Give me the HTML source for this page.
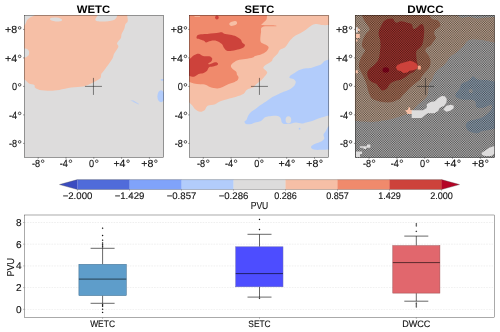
<!DOCTYPE html>
<html><head><meta charset="utf-8"><title>PVU composites</title>
<style>
html,body{margin:0;padding:0;background:#fff;}
body{width:500px;height:332px;overflow:hidden;position:relative;font-family:"Liberation Sans",sans-serif;}
</style></head><body>
<svg width="500" height="332" viewBox="0 0 500 332" style="position:absolute;left:0;top:0;will-change:transform;opacity:0.999" font-family="Liberation Sans, sans-serif" text-rendering="geometricPrecision">
<defs>
<clipPath id="c1"><rect x="24.0" y="15" width="140" height="142.7"/></clipPath>
<clipPath id="c2"><rect x="189.1" y="15" width="140" height="142.7"/></clipPath>
<clipPath id="c3"><rect x="354.9" y="15" width="140" height="142.7"/></clipPath>
</defs>
<rect width="500" height="332" fill="#fff"/>
<g clip-path="url(#c1)">
<rect x="24.0" y="15" width="140" height="143" fill="#dddcdc"/>
<path d="M20.00,26.50 C20.67,26.35 23.07,26.10 24.00,25.60 C24.93,25.10 25.07,24.43 25.60,23.50 C26.13,22.57 26.47,21.02 27.20,20.00 C27.93,18.98 28.83,18.15 30.00,17.40 C31.17,16.65 33.03,16.23 34.20,15.50 C35.37,14.77 36.53,13.42 37.00,13.00 L97.8,13L97.80,13.00 C97.70,13.50 97.62,14.90 97.20,16.00 C96.78,17.10 95.25,18.72 95.30,19.60 C95.35,20.48 95.88,20.98 97.50,21.30 C99.12,21.62 102.75,21.58 105.00,21.50 C107.25,21.42 109.37,21.12 111.00,20.80 C112.63,20.48 113.78,20.40 114.80,19.60 C115.82,18.80 116.65,17.10 117.10,16.00 C117.55,14.90 117.43,13.50 117.50,13.00 L127.2,13L127.20,13.00 C127.22,13.50 127.22,14.62 127.30,16.00 C127.38,17.38 128.02,19.92 127.70,21.30 C127.38,22.68 125.97,23.05 125.40,24.30 C124.83,25.55 124.93,27.17 124.30,28.80 C123.67,30.43 122.17,32.58 121.60,34.10 C121.03,35.62 121.65,36.40 120.90,37.90 C120.15,39.40 117.53,41.60 117.10,43.10 C116.67,44.60 118.80,45.13 118.30,46.90 C117.80,48.67 115.05,51.80 114.10,53.70 C113.15,55.60 113.60,56.40 112.60,58.30 C111.60,60.20 109.60,62.97 108.10,65.10 C106.60,67.23 104.73,69.60 103.60,71.10 C102.47,72.60 101.82,72.97 101.30,74.10 C100.78,75.23 101.38,76.77 100.50,77.90 C99.62,79.03 97.75,79.90 96.00,80.90 C94.25,81.90 92.12,82.98 90.00,83.90 C87.88,84.82 86.43,85.78 83.30,86.40 C80.17,87.02 75.22,87.02 71.20,87.60 C67.18,88.18 62.72,89.38 59.20,89.90 C55.68,90.42 53.37,90.70 50.10,90.70 C46.83,90.70 42.12,90.42 39.60,89.90 C37.08,89.38 35.88,88.43 35.00,87.60 C34.12,86.77 35.30,85.60 34.30,84.90 C33.30,84.20 30.50,84.20 29.00,83.40 C27.50,82.60 26.13,80.77 25.30,80.10 C24.47,79.43 24.88,79.58 24.00,79.40 C23.12,79.22 20.67,79.07 20.00,79.00 L20,57.5L20.00,57.50 C20.67,57.50 22.92,57.58 24.00,57.50 C25.08,57.42 25.70,57.45 26.50,57.00 C27.30,56.55 28.38,55.77 28.80,54.80 C29.22,53.83 29.33,52.20 29.00,51.20 C28.67,50.20 27.63,49.27 26.80,48.80 C25.97,48.33 25.13,48.47 24.00,48.40 C22.87,48.33 20.67,48.40 20.00,48.40 Z" fill="#f6bfa6"/>
<ellipse cx="56" cy="19.5" rx="6.2" ry="2" fill="#dddcdc" transform="rotate(4 56 19.5)"/>
<ellipse cx="161" cy="96.3" rx="3.6" ry="6" fill="#b2ccfb"/>
<ellipse cx="162.2" cy="79.8" rx="1.6" ry="0.9" fill="#b2ccfb"/>
<path d="M130.5,100.2 L133.5,100.6 L138.8,103.8 L138.6,104.4 L134,102.2 Z" fill="#b2ccfb" opacity="0.8"/>
</g>
<g clip-path="url(#c2)">
<rect x="189.1" y="15" width="140" height="143" fill="#dddcdc"/>
<path d="M332.00,25.10 C331.42,25.10 330.03,25.10 328.50,25.10 C326.97,25.10 324.77,25.30 322.80,25.10 C320.83,24.90 318.47,23.90 316.70,23.90 C314.93,23.90 313.95,24.15 312.20,25.10 C310.45,26.05 308.20,28.23 306.20,29.60 C304.20,30.97 302.20,32.17 300.20,33.30 C298.20,34.43 295.83,35.27 294.20,36.40 C292.57,37.53 291.67,38.60 290.40,40.10 C289.13,41.60 287.60,44.13 286.60,45.40 C285.60,46.67 285.53,46.95 284.40,47.70 C283.27,48.45 280.93,48.88 279.80,49.90 C278.67,50.92 278.72,52.40 277.60,53.80 C276.48,55.20 274.10,57.05 273.10,58.30 C272.10,59.55 272.87,60.17 271.60,61.30 C270.33,62.43 266.88,63.97 265.50,65.10 C264.12,66.23 263.17,67.10 263.30,68.10 C263.43,69.10 265.68,70.23 266.30,71.10 C266.92,71.97 267.50,72.17 267.00,73.30 C266.50,74.43 264.55,76.52 263.30,77.90 C262.05,79.28 260.88,80.35 259.50,81.60 C258.12,82.85 256.12,84.40 255.00,85.40 C253.88,86.40 254.18,86.85 252.80,87.60 C251.42,88.35 248.22,88.88 246.70,89.90 C245.18,90.92 245.45,92.57 243.70,93.70 C241.95,94.83 238.45,95.93 236.20,96.70 C233.95,97.47 232.83,97.53 230.20,98.30 C227.57,99.07 222.92,100.30 220.40,101.30 C217.88,102.30 217.23,103.55 215.10,104.30 C212.97,105.05 209.35,104.80 207.60,105.80 C205.85,106.80 205.85,109.30 204.60,110.30 C203.35,111.30 201.62,111.92 200.10,111.80 C198.58,111.68 196.77,110.60 195.50,109.60 C194.23,108.60 193.50,106.93 192.50,105.80 C191.50,104.67 190.58,103.77 189.50,102.80 C188.42,101.83 186.58,100.47 186.00,100.00 L186.00,10.00 L332.00,10.00 Z" fill="#f6bfa6"/>
<path d="M267.20,12.00 C267.17,12.54 267.15,13.95 267.00,15.25 C266.85,16.55 267.05,18.41 266.30,19.80 C265.55,21.19 263.18,22.72 262.50,23.60 C261.82,24.48 260.18,24.78 262.20,25.10 C264.22,25.42 272.42,25.30 274.60,25.50 C276.78,25.70 277.32,26.07 275.30,26.30 C273.28,26.53 264.88,25.85 262.50,26.90 C260.12,27.95 261.37,30.40 261.00,32.60 C260.63,34.80 260.17,38.35 260.30,40.10 C260.43,41.85 260.68,42.22 261.80,43.10 C262.92,43.98 265.87,44.63 267.00,45.40 C268.13,46.17 268.72,46.70 268.60,47.70 C268.48,48.70 267.57,50.28 266.30,51.40 C265.03,52.52 262.88,53.65 261.00,54.40 C259.12,55.15 256.37,55.38 255.00,55.90 C253.63,56.42 254.43,56.98 252.80,57.50 C251.17,58.02 247.72,58.55 245.20,59.00 C242.68,59.45 239.70,59.57 237.70,60.20 C235.70,60.83 234.33,61.87 233.20,62.80 C232.07,63.73 231.03,64.80 230.90,65.80 C230.77,66.80 231.52,67.80 232.40,68.80 C233.28,69.80 235.43,70.80 236.20,71.80 C236.97,72.80 236.62,73.92 237.00,74.80 C237.38,75.68 238.38,76.22 238.50,77.10 C238.62,77.98 238.33,79.30 237.70,80.10 C237.07,80.90 236.20,81.27 234.70,81.90 C233.20,82.53 230.70,83.07 228.70,83.90 C226.70,84.73 224.58,86.15 222.70,86.90 C220.82,87.65 219.42,88.33 217.40,88.40 C215.38,88.47 212.48,87.88 210.60,87.30 C208.72,86.72 207.85,85.40 206.10,84.90 C204.35,84.40 202.12,84.55 200.10,84.30 C198.08,84.05 195.77,83.80 194.00,83.40 C192.23,83.00 190.83,82.30 189.50,81.90 C188.17,81.50 186.58,81.15 186.00,81.00 L186.00,10.00 Z" fill="#f08a6c"/>
<path d="M196.70,36.40 C196.97,35.77 197.28,35.18 198.60,34.80 C199.92,34.42 201.60,34.42 204.60,34.10 C207.60,33.78 213.72,33.20 216.60,32.90 C219.48,32.60 220.63,32.15 221.90,32.30 C223.17,32.45 222.82,33.38 224.20,33.80 C225.58,34.22 228.20,34.37 230.20,34.80 C232.20,35.23 234.45,35.63 236.20,36.40 C237.95,37.17 239.70,38.40 240.70,39.40 C241.70,40.40 241.50,41.48 242.20,42.40 C242.90,43.32 244.77,44.02 244.90,44.90 C245.03,45.78 244.20,46.93 243.00,47.70 C241.80,48.47 239.83,48.95 237.70,49.50 C235.57,50.05 232.08,50.85 230.20,51.00 C228.32,51.15 227.45,50.95 226.40,50.40 C225.35,49.85 224.65,48.78 223.90,47.70 C223.15,46.62 223.12,45.03 221.90,43.90 C220.68,42.77 218.48,41.40 216.60,40.90 C214.72,40.40 212.35,40.65 210.60,40.90 C208.85,41.15 207.15,42.40 206.10,42.40 C205.05,42.40 205.30,41.40 204.30,40.90 C203.30,40.40 201.32,39.78 200.10,39.40 C198.88,39.02 197.57,39.10 197.00,38.60 C196.43,38.10 196.43,37.03 196.70,36.40 Z" fill="#cd423b"/>
<path d="M186.00,60.00 C186.58,57.33 188.17,59.78 189.50,59.00 C190.83,58.22 192.48,56.17 194.00,55.30 C195.52,54.43 197.08,53.68 198.60,53.80 C200.12,53.92 201.35,55.58 203.10,56.00 C204.85,56.42 207.60,55.92 209.10,56.30 C210.60,56.68 211.72,57.47 212.10,58.30 C212.48,59.13 212.03,60.42 211.40,61.30 C210.77,62.18 208.57,63.10 208.30,63.60 C208.03,64.10 208.67,64.52 209.80,64.30 C210.93,64.08 213.77,62.47 215.10,62.30 C216.43,62.13 217.42,62.83 217.80,63.30 C218.18,63.77 218.22,64.55 217.40,65.10 C216.58,65.65 214.28,66.23 212.90,66.60 C211.52,66.97 210.12,66.55 209.10,67.30 C208.08,68.05 207.80,70.10 206.80,71.10 C205.80,72.10 204.47,72.80 203.10,73.30 C201.73,73.80 200.12,73.52 198.60,74.10 C197.08,74.68 195.52,76.50 194.00,76.80 C192.48,77.10 190.83,76.20 189.50,75.90 C188.17,75.60 186.58,77.65 186.00,75.00 C185.42,72.35 185.42,62.67 186.00,60.00 Z" fill="#cd423b"/>
<ellipse cx="216.9" cy="17.4" rx="1.8" ry="2" fill="#cd423b"/>
<ellipse cx="233.2" cy="23.5" rx="4" ry="2.1" fill="#f6bfa6" transform="rotate(-15 233.2 23.5)"/>
<rect x="194.5" y="16" width="5.5" height="0.9" fill="#f6bfa6" opacity="0.8"/>
<path d="M332.00,59.00 C331.42,49.80 329.78,59.42 328.50,59.80 C327.22,60.18 325.50,60.55 324.30,61.30 C323.10,62.05 322.82,63.42 321.30,64.30 C319.78,65.18 316.97,65.97 315.20,66.60 C313.43,67.23 312.45,67.80 310.70,68.10 C308.95,68.40 306.70,68.03 304.70,68.40 C302.70,68.77 300.45,69.48 298.70,70.30 C296.95,71.12 295.58,72.42 294.20,73.30 C292.82,74.18 291.17,74.83 290.40,75.60 C289.63,76.37 289.10,77.35 289.60,77.90 C290.10,78.45 292.38,78.28 293.40,78.90 C294.42,79.52 295.52,80.52 295.70,81.60 C295.88,82.68 295.27,84.27 294.50,85.40 C293.73,86.53 292.42,87.52 291.10,88.40 C289.78,89.28 288.35,89.95 286.60,90.70 C284.85,91.45 282.35,92.15 280.60,92.90 C278.85,93.65 277.60,94.45 276.10,95.20 C274.60,95.95 273.62,96.13 271.60,97.40 C269.58,98.67 266.02,101.40 264.00,102.80 C261.98,104.20 260.87,104.80 259.50,105.80 C258.13,106.80 257.17,107.80 255.80,108.80 C254.43,109.80 252.55,110.67 251.30,111.80 C250.05,112.93 249.07,114.33 248.30,115.60 C247.53,116.87 247.33,118.40 246.70,119.40 C246.07,120.40 244.62,120.85 244.50,121.60 C244.38,122.35 244.87,123.52 246.00,123.90 C247.13,124.28 249.80,124.15 251.30,123.90 C252.80,123.65 253.38,122.90 255.00,122.40 C256.62,121.90 259.25,121.78 261.00,120.90 C262.75,120.02 263.73,117.93 265.50,117.10 C267.27,116.27 269.58,116.10 271.60,115.90 C273.62,115.70 276.10,115.57 277.60,115.90 C279.10,116.23 279.78,116.68 280.60,117.90 C281.42,119.12 281.10,122.18 282.50,123.20 C283.90,124.22 286.80,124.13 289.00,124.00 C291.20,123.87 293.58,122.50 295.70,122.40 C297.82,122.30 299.95,123.40 301.70,123.40 C303.45,123.40 304.45,122.82 306.20,122.40 C307.95,121.98 310.18,121.53 312.20,120.90 C314.22,120.27 316.28,119.28 318.30,118.60 C320.32,117.92 322.60,117.30 324.30,116.80 C326.00,116.30 327.22,115.90 328.50,115.60 C329.78,115.30 331.42,124.43 332.00,115.00 C332.58,105.57 332.58,68.20 332.00,59.00 Z" fill="#b2ccfb"/>
<ellipse cx="288.4" cy="119.8" rx="2.8" ry="3.6" fill="#dddcdc"/>
<path d="M332.00,126.00 C331.42,122.18 329.53,125.67 328.50,126.50 C327.47,127.33 326.63,129.62 325.80,131.00 C324.97,132.38 323.75,133.53 323.50,134.80 C323.25,136.07 324.67,137.47 324.30,138.60 C323.93,139.73 322.82,140.73 321.30,141.60 C319.78,142.47 316.83,143.05 315.20,143.80 C313.57,144.55 312.12,145.35 311.50,146.10 C310.88,146.85 310.88,147.68 311.50,148.30 C312.12,148.92 313.57,149.55 315.20,149.80 C316.83,150.05 319.08,149.87 321.30,149.80 C323.52,149.73 326.72,149.47 328.50,149.40 C330.28,149.33 331.42,153.30 332.00,149.40 C332.58,145.50 332.58,129.82 332.00,126.00 Z" fill="#b2ccfb"/>
<circle cx="299.6" cy="128.7" r="0.9" fill="#b2ccfb"/>
</g>
<g clip-path="url(#c3)">
<rect x="354.9" y="15" width="140" height="143" fill="#dddcdc"/>
<path d="M352.00,120.70 C352.58,120.73 353.57,120.75 355.50,120.90 C357.43,121.05 360.75,121.43 363.60,121.60 C366.45,121.77 369.85,122.02 372.60,121.90 C375.35,121.78 377.58,121.20 380.10,120.90 C382.62,120.60 385.43,120.48 387.70,120.10 C389.97,119.72 391.70,119.22 393.70,118.60 C395.70,117.98 397.70,117.03 399.70,116.40 C401.70,115.77 403.95,115.43 405.70,114.80 C407.45,114.17 408.68,113.72 410.20,112.60 C411.72,111.48 413.28,109.60 414.80,108.10 C416.32,106.60 417.60,105.12 419.30,103.60 C421.00,102.08 423.63,100.40 425.00,99.00 C426.37,97.60 426.95,96.58 427.50,95.20 C428.05,93.82 428.05,92.47 428.30,90.70 C428.55,88.93 428.38,86.37 429.00,84.60 C429.62,82.83 431.12,81.85 432.00,80.10 C432.88,78.35 433.28,75.85 434.30,74.10 C435.32,72.35 436.47,71.10 438.10,69.60 C439.73,68.10 442.35,66.87 444.10,65.10 C445.85,63.33 447.60,60.40 448.60,59.00 C449.60,57.60 449.10,57.58 450.10,56.70 C451.10,55.82 453.08,54.83 454.60,53.70 C456.12,52.57 457.68,51.17 459.20,49.90 C460.72,48.63 462.45,47.48 463.70,46.10 C464.95,44.72 465.45,42.72 466.70,41.60 C467.95,40.48 468.95,39.65 471.20,39.40 C473.45,39.15 477.68,39.85 480.20,40.10 C482.72,40.35 483.92,40.52 486.30,40.90 C488.68,41.28 492.55,42.05 494.50,42.40 C496.45,42.75 497.42,42.90 498.00,43.00 L498.00,17.00 C497.42,17.00 496.50,16.90 494.50,17.00 C492.50,17.10 488.92,17.37 486.00,17.60 C483.08,17.83 479.67,18.50 477.00,18.40 C474.33,18.30 472.58,17.13 470.00,17.00 C467.42,16.87 463.55,17.88 461.50,17.60 C459.45,17.32 458.62,16.23 457.70,15.30 C456.78,14.37 456.28,12.55 456.00,12.00 L352,12 Z" fill="#eecdb4"/>
<path d="M429.80,12.00 C429.80,12.54 429.43,14.08 429.80,15.25 C430.17,16.42 430.62,18.12 432.00,19.00 C433.38,19.88 436.72,19.37 438.10,20.50 C439.48,21.63 440.80,24.17 440.30,25.80 C439.80,27.43 436.10,28.92 435.10,30.30 C434.10,31.68 434.18,32.83 434.30,34.10 C434.42,35.37 436.05,36.52 435.80,37.90 C435.55,39.28 433.68,41.15 432.80,42.40 C431.92,43.65 431.50,44.52 430.50,45.40 C429.50,46.28 427.63,46.77 426.80,47.70 C425.97,48.63 425.22,49.70 425.50,51.00 C425.78,52.30 427.67,53.83 428.50,55.50 C429.33,57.17 430.33,59.08 430.50,61.00 C430.67,62.92 430.42,65.08 429.50,67.00 C428.58,68.92 426.33,70.82 425.00,72.50 C423.67,74.18 422.33,75.88 421.50,77.10 C420.67,78.32 420.87,78.92 420.00,79.80 C419.13,80.68 417.93,81.08 416.30,82.40 C414.67,83.72 411.83,86.20 410.20,87.70 C408.57,89.20 407.75,90.15 406.50,91.40 C405.25,92.65 403.83,93.93 402.70,95.20 C401.57,96.47 400.58,98.23 399.70,99.00 C398.82,99.77 398.65,99.30 397.40,99.80 C396.15,100.30 394.33,101.58 392.20,102.00 C390.07,102.42 387.12,102.50 384.60,102.30 C382.08,102.10 379.23,101.47 377.10,100.80 C374.97,100.13 373.05,99.35 371.80,98.30 C370.55,97.25 370.22,95.77 369.60,94.50 C368.98,93.23 368.60,92.35 368.10,90.70 C367.60,89.05 367.23,86.62 366.60,84.60 C365.97,82.58 365.18,80.60 364.30,78.60 C363.42,76.60 362.18,74.60 361.30,72.60 C360.42,70.60 359.25,68.62 359.00,66.60 C358.75,64.58 359.17,62.52 359.80,60.50 C360.43,58.48 361.92,56.13 362.80,54.50 C363.68,52.87 365.23,52.10 365.10,50.70 C364.97,49.30 362.38,47.87 362.00,46.10 C361.62,44.33 362.17,42.10 362.80,40.10 C363.43,38.10 364.67,35.85 365.80,34.10 C366.93,32.35 369.35,31.10 369.60,29.60 C369.85,28.10 368.18,26.62 367.30,25.10 C366.42,23.58 365.18,22.14 364.30,20.50 C363.42,18.86 362.47,16.67 362.00,15.25 C361.53,13.83 361.58,12.54 361.50,12.00 Z" fill="#d68e6e"/>
<path d="M381.60,25.10 C382.35,23.72 382.88,22.32 383.90,21.30 C384.92,20.28 386.20,19.43 387.70,19.00 C389.20,18.57 391.78,18.32 392.90,18.70 C394.02,19.08 393.77,20.62 394.40,21.30 C395.03,21.98 395.57,22.80 396.70,22.80 C397.83,22.80 399.45,21.30 401.20,21.30 C402.95,21.30 405.45,22.30 407.20,22.80 C408.95,23.30 410.68,23.30 411.70,24.30 C412.72,25.30 412.53,28.17 413.30,28.80 C414.07,29.43 415.05,28.85 416.30,28.10 C417.55,27.35 419.68,24.80 420.80,24.30 C421.92,23.80 422.43,24.22 423.00,25.10 C423.57,25.98 424.07,27.60 424.20,29.60 C424.33,31.60 424.12,34.60 423.80,37.10 C423.48,39.60 422.93,42.83 422.30,44.60 C421.67,46.37 420.97,46.63 420.00,47.70 C419.03,48.77 417.12,49.62 416.50,51.00 C415.88,52.38 416.22,54.17 416.30,56.00 C416.38,57.83 416.75,60.33 417.00,62.00 C417.25,63.67 418.17,64.50 417.80,66.00 C417.43,67.50 416.18,69.65 414.80,71.00 C413.42,72.35 411.02,73.08 409.50,74.10 C407.98,75.12 407.08,76.22 405.70,77.10 C404.32,77.98 402.95,78.77 401.20,79.40 C399.45,80.03 397.08,80.15 395.20,80.90 C393.32,81.65 391.28,82.65 389.90,83.90 C388.52,85.15 388.15,87.32 386.90,88.40 C385.65,89.48 383.65,90.52 382.40,90.40 C381.15,90.28 380.40,88.78 379.40,87.70 C378.40,86.62 377.78,84.92 376.40,83.90 C375.02,82.88 372.48,82.60 371.10,81.60 C369.72,80.60 368.73,79.40 368.10,77.90 C367.47,76.40 367.05,74.12 367.30,72.60 C367.55,71.08 368.47,70.05 369.60,68.80 C370.73,67.55 372.72,66.48 374.10,65.10 C375.48,63.72 377.02,62.02 377.90,60.50 C378.78,58.98 379.03,57.75 379.40,56.00 C379.77,54.25 379.92,51.65 380.10,50.00 C380.28,48.35 380.50,47.75 380.50,46.10 C380.50,44.45 380.42,42.10 380.10,40.10 C379.78,38.10 378.72,35.85 378.60,34.10 C378.48,32.35 378.90,31.10 379.40,29.60 C379.90,28.10 380.85,26.48 381.60,25.10 Z" fill="#cd423b"/>
<ellipse cx="385.8" cy="69.9" rx="3.3" ry="2.7" fill="#b40426"/>
<path d="M473.20,76.30 C474.60,76.12 475.28,78.87 477.40,79.50 C479.52,80.13 483.05,79.75 485.90,80.10 C488.75,80.45 492.48,81.28 494.50,81.60 C496.52,81.92 497.42,74.10 498.00,82.00 C498.58,89.90 498.58,121.20 498.00,129.00 C497.42,136.80 496.00,128.62 494.50,128.80 C493.00,128.98 491.15,129.70 489.00,130.10 C486.85,130.50 483.53,130.67 481.60,131.20 C479.67,131.73 479.50,133.30 477.40,133.30 C475.30,133.30 470.93,132.43 469.00,131.20 C467.07,129.97 465.98,127.48 465.80,125.90 C465.62,124.32 466.32,122.75 467.90,121.70 C469.48,120.65 472.65,120.48 475.30,119.60 C477.95,118.72 481.52,117.63 483.80,116.40 C486.08,115.17 487.60,113.60 489.00,112.20 C490.40,110.80 491.85,109.23 492.20,108.00 C492.55,106.77 491.80,105.15 491.10,104.80 C490.40,104.45 489.58,105.37 488.00,105.90 C486.42,106.43 483.53,107.83 481.60,108.00 C479.67,108.17 477.45,107.97 476.40,106.90 C475.35,105.83 476.18,102.78 475.30,101.60 C474.42,100.42 473.20,100.15 471.10,99.80 C469.00,99.45 465.13,99.88 462.70,99.50 C460.27,99.12 457.68,98.37 456.50,97.50 C455.32,96.63 455.10,95.72 455.60,94.30 C456.10,92.88 458.50,90.77 459.50,89.00 C460.50,87.23 460.02,85.10 461.60,83.70 C463.18,82.30 467.07,81.83 469.00,80.60 C470.93,79.37 471.80,76.48 473.20,76.30 Z" fill="#b3c8dd"/>
<circle cx="470.8" cy="91" r="2" fill="#dddcdc"/>
<pattern id="hx" x="355" y="13" width="7" height="7" patternUnits="userSpaceOnUse" shape-rendering="crispEdges" fill="#000"><rect x="0" y="0" width="1" height="1" fill-opacity="0.386"/><rect x="1" y="0" width="1" height="1" fill-opacity="0.426"/><rect x="2" y="0" width="1" height="1" fill-opacity="0.357"/><rect x="3" y="0" width="1" height="1" fill-opacity="0.444"/><rect x="4" y="0" width="1" height="1" fill-opacity="0.357"/><rect x="5" y="0" width="1" height="1" fill-opacity="0.426"/><rect x="6" y="0" width="1" height="1" fill-opacity="0.386"/><rect x="0" y="1" width="1" height="1" fill-opacity="0.426"/><rect x="1" y="1" width="1" height="1" fill-opacity="0.321"/><rect x="2" y="1" width="1" height="1" fill-opacity="0.519"/><rect x="3" y="1" width="1" height="1" fill-opacity="0.277"/><rect x="4" y="1" width="1" height="1" fill-opacity="0.519"/><rect x="5" y="1" width="1" height="1" fill-opacity="0.321"/><rect x="6" y="1" width="1" height="1" fill-opacity="0.426"/><rect x="0" y="2" width="1" height="1" fill-opacity="0.357"/><rect x="1" y="2" width="1" height="1" fill-opacity="0.519"/><rect x="2" y="2" width="1" height="1" fill-opacity="0.241"/><rect x="3" y="2" width="1" height="1" fill-opacity="0.593"/><rect x="4" y="2" width="1" height="1" fill-opacity="0.241"/><rect x="5" y="2" width="1" height="1" fill-opacity="0.519"/><rect x="6" y="2" width="1" height="1" fill-opacity="0.357"/><rect x="0" y="3" width="1" height="1" fill-opacity="0.444"/><rect x="1" y="3" width="1" height="1" fill-opacity="0.277"/><rect x="2" y="3" width="1" height="1" fill-opacity="0.593"/><rect x="3" y="3" width="1" height="1" fill-opacity="0.205"/><rect x="4" y="3" width="1" height="1" fill-opacity="0.593"/><rect x="5" y="3" width="1" height="1" fill-opacity="0.277"/><rect x="6" y="3" width="1" height="1" fill-opacity="0.444"/><rect x="0" y="4" width="1" height="1" fill-opacity="0.357"/><rect x="1" y="4" width="1" height="1" fill-opacity="0.519"/><rect x="2" y="4" width="1" height="1" fill-opacity="0.241"/><rect x="3" y="4" width="1" height="1" fill-opacity="0.593"/><rect x="4" y="4" width="1" height="1" fill-opacity="0.241"/><rect x="5" y="4" width="1" height="1" fill-opacity="0.519"/><rect x="6" y="4" width="1" height="1" fill-opacity="0.357"/><rect x="0" y="5" width="1" height="1" fill-opacity="0.426"/><rect x="1" y="5" width="1" height="1" fill-opacity="0.321"/><rect x="2" y="5" width="1" height="1" fill-opacity="0.519"/><rect x="3" y="5" width="1" height="1" fill-opacity="0.277"/><rect x="4" y="5" width="1" height="1" fill-opacity="0.519"/><rect x="5" y="5" width="1" height="1" fill-opacity="0.321"/><rect x="6" y="5" width="1" height="1" fill-opacity="0.426"/><rect x="0" y="6" width="1" height="1" fill-opacity="0.386"/><rect x="1" y="6" width="1" height="1" fill-opacity="0.426"/><rect x="2" y="6" width="1" height="1" fill-opacity="0.357"/><rect x="3" y="6" width="1" height="1" fill-opacity="0.444"/><rect x="4" y="6" width="1" height="1" fill-opacity="0.357"/><rect x="5" y="6" width="1" height="1" fill-opacity="0.426"/><rect x="6" y="6" width="1" height="1" fill-opacity="0.386"/></pattern>
<rect x="354.9" y="15" width="140" height="143" fill="url(#hx)"/>
<path d="M395.9,67.3 L397.4,65.1 L401.2,63.3 L405.7,62.0 L410.2,60.8 L413.3,61.7 L416.3,63.6 L417.8,65.8 L417.0,68.8 L413.3,70.3 L409.5,70.8 L407.2,72.6 L403.5,72.9 L400.5,71.1 L397.4,70.3 Z" fill="#cd423b"/>
<path d="M417.8,65.8 L420.8,65.8 L420.8,69.6 L417.8,69.6 Z" fill="#f4a488"/>
<path d="M356.0,27.3 L357.8,27.3 L357.8,32.6 L356.0,32.6 Z" fill="#dddcdc"/>
<path d="M357.8,28.8 L359.8,28.8 L359.8,31.0 L357.8,31.0 Z" fill="#f6bfa6"/>
<path d="M356.0,34.1 L359.8,34.1 L359.8,37.9 L356.0,37.9 Z" fill="#f6bfa6"/>
<path d="M356.0,39.4 L357.5,39.4 L357.5,41.6 L356.0,41.6 Z" fill="#f6bfa6"/>
<path d="M355.5,70.3 L357.8,70.3 L357.8,73.3 L355.5,73.3 Z" fill="#f6bfa6"/>
<path d="M405.0,110.3 L408.0,110.0 L408.5,107.3 L410.0,107.3 L410.3,110.0 L412.5,110.3 L412.5,114.1 L407.5,114.1 L406.5,112.0 Z" fill="#f6bfa6"/>
<path d="M411.7,110.3 L420.0,110.3 L423.0,110.3 L426.8,108.1 L426.8,104.3 L430.5,102.0 L435.1,101.3 L438.1,98.3 L441.8,96.0 L444.8,96.3 L446.8,99.0 L446.4,102.8 L444.1,105.8 L439.6,108.1 L438.1,111.1 L434.3,113.3 L427.5,113.3 L424.5,115.6 L421.5,117.9 L411.7,117.9 Z" fill="#dddcdc"/>
<path d="M443.3,109.6 L446.4,105.8 L450.9,104.8 L453.9,105.8 L453.4,108.4 L450.1,110.8 L446.4,111.8 Z" fill="#dddcdc"/>
<path d="M359.8,146.3 L367.0,146.3 L367.0,144.6 L370.3,144.6 L370.3,147.8 L366.0,147.8 L366.0,149.1 L363.5,149.1 L363.5,147.8 L359.8,147.8 Z" fill="#dddcdc"/>
<path d="M356.0,151.4 L362.0,151.4 L362.0,154.0 L360.0,154.0 L360.0,157.0 L356.0,157.0 Z" fill="#dddcdc"/>
<path d="M481.5,152.9 L485.2,150.6 L489.8,147.6 L494.5,146.1 L494.5,153.6 L491.3,155.9 L485.2,155.9 L482.2,155.1 Z" fill="#dddcdc"/>
</g>
<path d="M84.95,86.40 h17 M93.45,77.90 v17" stroke="#222" stroke-width="0.55" fill="none"/>
<rect x="24.5" y="15.5" width="139" height="141.75" fill="none" stroke="#000" stroke-width="0.34"/>
<text x="93.45" y="12.55" font-size="10.9" font-weight="bold" text-anchor="middle" textLength="33.4" lengthAdjust="spacingAndGlyphs">WETC</text>
<path d="M23.00,29.40 h1.3 M149.40,157.4 v1.4" stroke="#000" stroke-width="0.4"/>
<text x="17.10" y="33.20" text-anchor="end" textLength="12.1" font-size="10.4" fill="#111" stroke="#111" stroke-width="0.12" lengthAdjust="spacingAndGlyphs">+8</text>
<circle cx="19.65" cy="27.85" r="1.3" fill="none" stroke="#111" stroke-width="0.72"/>
<text x="153.30" y="166.55" text-anchor="end" textLength="12.1" font-size="10.4" fill="#111" stroke="#111" stroke-width="0.12" lengthAdjust="spacingAndGlyphs">+8</text>
<circle cx="155.85" cy="161.2" r="1.3" fill="none" stroke="#111" stroke-width="0.72"/>
<path d="M23.00,57.90 h1.3 M121.60,157.4 v1.4" stroke="#000" stroke-width="0.4"/>
<text x="17.10" y="61.70" text-anchor="end" textLength="12.1" font-size="10.4" fill="#111" stroke="#111" stroke-width="0.12" lengthAdjust="spacingAndGlyphs">+4</text>
<circle cx="19.65" cy="56.35" r="1.3" fill="none" stroke="#111" stroke-width="0.72"/>
<text x="125.50" y="166.55" text-anchor="end" textLength="12.1" font-size="10.4" fill="#111" stroke="#111" stroke-width="0.12" lengthAdjust="spacingAndGlyphs">+4</text>
<circle cx="128.05" cy="161.2" r="1.3" fill="none" stroke="#111" stroke-width="0.72"/>
<path d="M23.00,86.40 h1.3 M93.80,157.4 v1.4" stroke="#000" stroke-width="0.4"/>
<text x="17.10" y="90.20" text-anchor="end" textLength="5.1" font-size="10.4" fill="#111" stroke="#111" stroke-width="0.12" lengthAdjust="spacingAndGlyphs">0</text>
<circle cx="19.65" cy="84.85" r="1.3" fill="none" stroke="#111" stroke-width="0.72"/>
<text x="94.20" y="166.55" text-anchor="end" textLength="5.1" font-size="10.4" fill="#111" stroke="#111" stroke-width="0.12" lengthAdjust="spacingAndGlyphs">0</text>
<circle cx="96.75" cy="161.2" r="1.3" fill="none" stroke="#111" stroke-width="0.72"/>
<path d="M23.00,114.90 h1.3 M66.00,157.4 v1.4" stroke="#000" stroke-width="0.4"/>
<text x="17.10" y="118.70" text-anchor="end" textLength="8.1" font-size="10.4" fill="#111" stroke="#111" stroke-width="0.12" lengthAdjust="spacingAndGlyphs">-4</text>
<circle cx="19.65" cy="113.35" r="1.3" fill="none" stroke="#111" stroke-width="0.72"/>
<text x="67.90" y="166.55" text-anchor="end" textLength="8.1" font-size="10.4" fill="#111" stroke="#111" stroke-width="0.12" lengthAdjust="spacingAndGlyphs">-4</text>
<circle cx="70.45" cy="161.2" r="1.3" fill="none" stroke="#111" stroke-width="0.72"/>
<path d="M23.00,143.40 h1.3 M38.20,157.4 v1.4" stroke="#000" stroke-width="0.4"/>
<text x="17.10" y="147.20" text-anchor="end" textLength="8.1" font-size="10.4" fill="#111" stroke="#111" stroke-width="0.12" lengthAdjust="spacingAndGlyphs">-8</text>
<circle cx="19.65" cy="141.85" r="1.3" fill="none" stroke="#111" stroke-width="0.72"/>
<text x="40.10" y="166.55" text-anchor="end" textLength="8.1" font-size="10.4" fill="#111" stroke="#111" stroke-width="0.12" lengthAdjust="spacingAndGlyphs">-8</text>
<circle cx="42.65" cy="161.2" r="1.3" fill="none" stroke="#111" stroke-width="0.72"/>
<path d="M250.95,86.40 h17 M259.45,77.90 v17" stroke="#222" stroke-width="0.55" fill="none"/>
<rect x="189.6" y="15.5" width="139" height="141.75" fill="none" stroke="#000" stroke-width="0.34"/>
<text x="259.45" y="12.55" font-size="10.9" font-weight="bold" text-anchor="middle" textLength="29.8" lengthAdjust="spacingAndGlyphs">SETC</text>
<path d="M188.10,29.40 h1.3 M314.50,157.4 v1.4" stroke="#000" stroke-width="0.4"/>
<text x="182.90" y="33.20" text-anchor="end" textLength="12.1" font-size="10.4" fill="#111" stroke="#111" stroke-width="0.12" lengthAdjust="spacingAndGlyphs">+8</text>
<circle cx="185.45" cy="27.85" r="1.3" fill="none" stroke="#111" stroke-width="0.72"/>
<text x="318.40" y="166.55" text-anchor="end" textLength="12.1" font-size="10.4" fill="#111" stroke="#111" stroke-width="0.12" lengthAdjust="spacingAndGlyphs">+8</text>
<circle cx="320.95" cy="161.2" r="1.3" fill="none" stroke="#111" stroke-width="0.72"/>
<path d="M188.10,57.90 h1.3 M286.70,157.4 v1.4" stroke="#000" stroke-width="0.4"/>
<text x="182.90" y="61.70" text-anchor="end" textLength="12.1" font-size="10.4" fill="#111" stroke="#111" stroke-width="0.12" lengthAdjust="spacingAndGlyphs">+4</text>
<circle cx="185.45" cy="56.35" r="1.3" fill="none" stroke="#111" stroke-width="0.72"/>
<text x="290.60" y="166.55" text-anchor="end" textLength="12.1" font-size="10.4" fill="#111" stroke="#111" stroke-width="0.12" lengthAdjust="spacingAndGlyphs">+4</text>
<circle cx="293.15" cy="161.2" r="1.3" fill="none" stroke="#111" stroke-width="0.72"/>
<path d="M188.10,86.40 h1.3 M258.90,157.4 v1.4" stroke="#000" stroke-width="0.4"/>
<text x="182.90" y="90.20" text-anchor="end" textLength="5.1" font-size="10.4" fill="#111" stroke="#111" stroke-width="0.12" lengthAdjust="spacingAndGlyphs">0</text>
<circle cx="185.45" cy="84.85" r="1.3" fill="none" stroke="#111" stroke-width="0.72"/>
<text x="259.30" y="166.55" text-anchor="end" textLength="5.1" font-size="10.4" fill="#111" stroke="#111" stroke-width="0.12" lengthAdjust="spacingAndGlyphs">0</text>
<circle cx="261.85" cy="161.2" r="1.3" fill="none" stroke="#111" stroke-width="0.72"/>
<path d="M188.10,114.90 h1.3 M231.10,157.4 v1.4" stroke="#000" stroke-width="0.4"/>
<text x="182.90" y="118.70" text-anchor="end" textLength="8.1" font-size="10.4" fill="#111" stroke="#111" stroke-width="0.12" lengthAdjust="spacingAndGlyphs">-4</text>
<circle cx="185.45" cy="113.35" r="1.3" fill="none" stroke="#111" stroke-width="0.72"/>
<text x="233.00" y="166.55" text-anchor="end" textLength="8.1" font-size="10.4" fill="#111" stroke="#111" stroke-width="0.12" lengthAdjust="spacingAndGlyphs">-4</text>
<circle cx="235.55" cy="161.2" r="1.3" fill="none" stroke="#111" stroke-width="0.72"/>
<path d="M188.10,143.40 h1.3 M203.30,157.4 v1.4" stroke="#000" stroke-width="0.4"/>
<text x="182.90" y="147.20" text-anchor="end" textLength="8.1" font-size="10.4" fill="#111" stroke="#111" stroke-width="0.12" lengthAdjust="spacingAndGlyphs">-8</text>
<circle cx="185.45" cy="141.85" r="1.3" fill="none" stroke="#111" stroke-width="0.72"/>
<text x="205.20" y="166.55" text-anchor="end" textLength="8.1" font-size="10.4" fill="#111" stroke="#111" stroke-width="0.12" lengthAdjust="spacingAndGlyphs">-8</text>
<circle cx="207.75" cy="161.2" r="1.3" fill="none" stroke="#111" stroke-width="0.72"/>
<path d="M416.95,86.40 h17 M425.45,77.90 v17" stroke="#222" stroke-width="0.55" fill="none"/>
<rect x="355.4" y="15.5" width="139" height="141.75" fill="none" stroke="#000" stroke-width="0.34"/>
<text x="425.45" y="12.55" font-size="10.9" font-weight="bold" text-anchor="middle" textLength="36.5" lengthAdjust="spacingAndGlyphs">DWCC</text>
<path d="M353.90,29.40 h1.3 M480.30,157.4 v1.4" stroke="#000" stroke-width="0.4"/>
<text x="348.00" y="33.20" text-anchor="end" textLength="12.1" font-size="10.4" fill="#111" stroke="#111" stroke-width="0.12" lengthAdjust="spacingAndGlyphs">+8</text>
<circle cx="350.55" cy="27.85" r="1.3" fill="none" stroke="#111" stroke-width="0.72"/>
<text x="484.20" y="166.55" text-anchor="end" textLength="12.1" font-size="10.4" fill="#111" stroke="#111" stroke-width="0.12" lengthAdjust="spacingAndGlyphs">+8</text>
<circle cx="486.75" cy="161.2" r="1.3" fill="none" stroke="#111" stroke-width="0.72"/>
<path d="M353.90,57.90 h1.3 M452.50,157.4 v1.4" stroke="#000" stroke-width="0.4"/>
<text x="348.00" y="61.70" text-anchor="end" textLength="12.1" font-size="10.4" fill="#111" stroke="#111" stroke-width="0.12" lengthAdjust="spacingAndGlyphs">+4</text>
<circle cx="350.55" cy="56.35" r="1.3" fill="none" stroke="#111" stroke-width="0.72"/>
<text x="456.40" y="166.55" text-anchor="end" textLength="12.1" font-size="10.4" fill="#111" stroke="#111" stroke-width="0.12" lengthAdjust="spacingAndGlyphs">+4</text>
<circle cx="458.95" cy="161.2" r="1.3" fill="none" stroke="#111" stroke-width="0.72"/>
<path d="M353.90,86.40 h1.3 M424.70,157.4 v1.4" stroke="#000" stroke-width="0.4"/>
<text x="348.00" y="90.20" text-anchor="end" textLength="5.1" font-size="10.4" fill="#111" stroke="#111" stroke-width="0.12" lengthAdjust="spacingAndGlyphs">0</text>
<circle cx="350.55" cy="84.85" r="1.3" fill="none" stroke="#111" stroke-width="0.72"/>
<text x="425.10" y="166.55" text-anchor="end" textLength="5.1" font-size="10.4" fill="#111" stroke="#111" stroke-width="0.12" lengthAdjust="spacingAndGlyphs">0</text>
<circle cx="427.65" cy="161.2" r="1.3" fill="none" stroke="#111" stroke-width="0.72"/>
<path d="M353.90,114.90 h1.3 M396.90,157.4 v1.4" stroke="#000" stroke-width="0.4"/>
<text x="348.00" y="118.70" text-anchor="end" textLength="8.1" font-size="10.4" fill="#111" stroke="#111" stroke-width="0.12" lengthAdjust="spacingAndGlyphs">-4</text>
<circle cx="350.55" cy="113.35" r="1.3" fill="none" stroke="#111" stroke-width="0.72"/>
<text x="398.80" y="166.55" text-anchor="end" textLength="8.1" font-size="10.4" fill="#111" stroke="#111" stroke-width="0.12" lengthAdjust="spacingAndGlyphs">-4</text>
<circle cx="401.35" cy="161.2" r="1.3" fill="none" stroke="#111" stroke-width="0.72"/>
<path d="M353.90,143.40 h1.3 M369.10,157.4 v1.4" stroke="#000" stroke-width="0.4"/>
<text x="348.00" y="147.20" text-anchor="end" textLength="8.1" font-size="10.4" fill="#111" stroke="#111" stroke-width="0.12" lengthAdjust="spacingAndGlyphs">-8</text>
<circle cx="350.55" cy="141.85" r="1.3" fill="none" stroke="#111" stroke-width="0.72"/>
<text x="371.00" y="166.55" text-anchor="end" textLength="8.1" font-size="10.4" fill="#111" stroke="#111" stroke-width="0.12" lengthAdjust="spacingAndGlyphs">-8</text>
<circle cx="373.55" cy="161.2" r="1.3" fill="none" stroke="#111" stroke-width="0.72"/>
<rect x="77.50" y="179.6" width="52.3" height="9.9" fill="#506bda"/>
<rect x="129.50" y="179.6" width="52.3" height="9.9" fill="#80a3fa"/>
<rect x="181.50" y="179.6" width="52.3" height="9.9" fill="#b2ccfb"/>
<rect x="233.50" y="179.6" width="52.3" height="9.9" fill="#dddcdc"/>
<rect x="285.50" y="179.6" width="52.3" height="9.9" fill="#f6bfa6"/>
<rect x="337.50" y="179.6" width="52.3" height="9.9" fill="#f08a6c"/>
<rect x="389.50" y="179.6" width="52.3" height="9.9" fill="#cd423b"/>
<path d="M77.5,179.6 L59.5,184.54999999999998 L77.5,189.5 Z" fill="#3b4cc0"/>
<path d="M441.5,179.6 L459.5,184.54999999999998 L441.5,189.5 Z" fill="#b40426"/>
<path d="M59.5,184.54999999999998 L77.5,179.6 L441.5,179.6 L459.5,184.54999999999998 L441.5,189.5 L77.5,189.5 Z" fill="none" stroke="#555" stroke-width="0.35"/>
<path d="M77.50,189.5 v1.2" stroke="#444" stroke-width="0.4"/>
<text x="77.50" y="198.8" font-size="9.6" text-anchor="middle" fill="#111" stroke="#111" stroke-width="0.12" textLength="29.7" lengthAdjust="spacingAndGlyphs">−2.000</text>
<path d="M129.50,189.5 v1.2" stroke="#444" stroke-width="0.4"/>
<text x="129.50" y="198.8" font-size="9.6" text-anchor="middle" fill="#111" stroke="#111" stroke-width="0.12" textLength="29.7" lengthAdjust="spacingAndGlyphs">−1.429</text>
<path d="M181.50,189.5 v1.2" stroke="#444" stroke-width="0.4"/>
<text x="181.50" y="198.8" font-size="9.6" text-anchor="middle" fill="#111" stroke="#111" stroke-width="0.12" textLength="29.7" lengthAdjust="spacingAndGlyphs">−0.857</text>
<path d="M233.50,189.5 v1.2" stroke="#444" stroke-width="0.4"/>
<text x="233.50" y="198.8" font-size="9.6" text-anchor="middle" fill="#111" stroke="#111" stroke-width="0.12" textLength="29.7" lengthAdjust="spacingAndGlyphs">−0.286</text>
<path d="M285.50,189.5 v1.2" stroke="#444" stroke-width="0.4"/>
<text x="285.50" y="198.8" font-size="9.6" text-anchor="middle" fill="#111" stroke="#111" stroke-width="0.12" textLength="22.7" lengthAdjust="spacingAndGlyphs">0.286</text>
<path d="M337.50,189.5 v1.2" stroke="#444" stroke-width="0.4"/>
<text x="337.50" y="198.8" font-size="9.6" text-anchor="middle" fill="#111" stroke="#111" stroke-width="0.12" textLength="22.7" lengthAdjust="spacingAndGlyphs">0.857</text>
<path d="M389.50,189.5 v1.2" stroke="#444" stroke-width="0.4"/>
<text x="389.50" y="198.8" font-size="9.6" text-anchor="middle" fill="#111" stroke="#111" stroke-width="0.12" textLength="22.7" lengthAdjust="spacingAndGlyphs">1.429</text>
<path d="M441.50,189.5 v1.2" stroke="#444" stroke-width="0.4"/>
<text x="441.50" y="198.8" font-size="9.6" text-anchor="middle" fill="#111" stroke="#111" stroke-width="0.12" textLength="22.7" lengthAdjust="spacingAndGlyphs">2.000</text>
<text x="259.5" y="208.7" font-size="10.1" text-anchor="middle" fill="#111" stroke="#111" stroke-width="0.12" textLength="17.6" lengthAdjust="spacingAndGlyphs">PVU</text>
<rect x="24.5" y="215.0" width="470.00" height="102.50" fill="#fff" stroke="#000" stroke-width="0.33"/>
<path d="M24.5,309.30 H494.5" stroke="#d4d4d4" stroke-width="0.5" stroke-dasharray="1.6 1.1" opacity="0.75"/>
<path d="M23.2,309.30 h1.3" stroke="#444" stroke-width="0.4"/>
<text x="21.70" y="312.60" font-size="9.9" text-anchor="end" fill="#111" stroke="#111" stroke-width="0.12" textLength="5.6" lengthAdjust="spacingAndGlyphs">0</text>
<path d="M24.5,287.60 H494.5" stroke="#d4d4d4" stroke-width="0.5" stroke-dasharray="1.6 1.1" opacity="0.75"/>
<path d="M23.2,287.60 h1.3" stroke="#444" stroke-width="0.4"/>
<text x="21.70" y="290.90" font-size="9.9" text-anchor="end" fill="#111" stroke="#111" stroke-width="0.12" textLength="5.6" lengthAdjust="spacingAndGlyphs">2</text>
<path d="M24.5,265.90 H494.5" stroke="#d4d4d4" stroke-width="0.5" stroke-dasharray="1.6 1.1" opacity="0.75"/>
<path d="M23.2,265.90 h1.3" stroke="#444" stroke-width="0.4"/>
<text x="21.70" y="269.20" font-size="9.9" text-anchor="end" fill="#111" stroke="#111" stroke-width="0.12" textLength="5.6" lengthAdjust="spacingAndGlyphs">4</text>
<path d="M24.5,244.20 H494.5" stroke="#d4d4d4" stroke-width="0.5" stroke-dasharray="1.6 1.1" opacity="0.75"/>
<path d="M23.2,244.20 h1.3" stroke="#444" stroke-width="0.4"/>
<text x="21.70" y="247.50" font-size="9.9" text-anchor="end" fill="#111" stroke="#111" stroke-width="0.12" textLength="5.6" lengthAdjust="spacingAndGlyphs">6</text>
<path d="M24.5,222.50 H494.5" stroke="#d4d4d4" stroke-width="0.5" stroke-dasharray="1.6 1.1" opacity="0.75"/>
<path d="M23.2,222.50 h1.3" stroke="#444" stroke-width="0.4"/>
<text x="21.70" y="225.80" font-size="9.9" text-anchor="end" fill="#111" stroke="#111" stroke-width="0.12" textLength="5.6" lengthAdjust="spacingAndGlyphs">8</text>
<text transform="translate(14.0,267.2) rotate(-90)" font-size="10.1" text-anchor="middle" fill="#111" stroke="#111" stroke-width="0.12" textLength="18.6" lengthAdjust="spacingAndGlyphs">PVU</text>
<path d="M102.6,248.3 V264.3 M102.6,295.6 V303.3 M90.6,248.3 h24 M90.6,303.3 h24" stroke="#000" stroke-width="0.6" fill="none"/>
<rect x="78.9" y="264.3" width="47.40" height="31.30" fill="#5e9dca" stroke="#3d6b8c" stroke-width="0.5"/>
<path d="M78.9,279.1 H126.3" stroke="#000" stroke-width="0.6"/>
<circle cx="102.6" cy="228.2" r="0.65" fill="#111" stroke="#111" stroke-width="0.12"/>
<circle cx="102.6" cy="235.5" r="0.65" fill="#111" stroke="#111" stroke-width="0.12"/>
<circle cx="102.6" cy="240.2" r="0.65" fill="#111" stroke="#111" stroke-width="0.12"/>
<circle cx="102.6" cy="243" r="0.65" fill="#111" stroke="#111" stroke-width="0.12"/>
<circle cx="102.6" cy="244.6" r="0.65" fill="#111" stroke="#111" stroke-width="0.12"/>
<circle cx="102.6" cy="246" r="0.65" fill="#111" stroke="#111" stroke-width="0.12"/>
<circle cx="102.6" cy="247" r="0.65" fill="#111" stroke="#111" stroke-width="0.12"/>
<circle cx="102.6" cy="304.3" r="0.65" fill="#111" stroke="#111" stroke-width="0.12"/>
<circle cx="102.6" cy="305.3" r="0.65" fill="#111" stroke="#111" stroke-width="0.12"/>
<circle cx="102.6" cy="306.3" r="0.65" fill="#111" stroke="#111" stroke-width="0.12"/>
<circle cx="102.6" cy="309.2" r="0.65" fill="#111" stroke="#111" stroke-width="0.12"/>
<circle cx="102.6" cy="312.4" r="0.65" fill="#111" stroke="#111" stroke-width="0.12"/>
<path d="M102.6,317.5 v1.3" stroke="#444" stroke-width="0.4"/>
<text x="102.6" y="327.0" font-size="9.3" text-anchor="middle" fill="#111" stroke="#111" stroke-width="0.12" textLength="24.9" lengthAdjust="spacingAndGlyphs">WETC</text>
<path d="M259.5,234.3 V246.8 M259.5,286.8 V297.1 M247.5,234.3 h24 M247.5,297.1 h24" stroke="#000" stroke-width="0.6" fill="none"/>
<rect x="235.7" y="246.8" width="47.30" height="40.00" fill="#4d4dff" stroke="#6868b8" stroke-width="0.5"/>
<path d="M235.7,273.6 H283.0" stroke="#000" stroke-width="0.6"/>
<circle cx="259.5" cy="219.4" r="0.65" fill="#111" stroke="#111" stroke-width="0.12"/>
<circle cx="259.5" cy="229.5" r="0.65" fill="#111" stroke="#111" stroke-width="0.12"/>
<circle cx="259.5" cy="298.2" r="0.65" fill="#111" stroke="#111" stroke-width="0.12"/>
<path d="M259.5,317.5 v1.3" stroke="#444" stroke-width="0.4"/>
<text x="259.5" y="327.0" font-size="9.3" text-anchor="middle" fill="#111" stroke="#111" stroke-width="0.12" textLength="22.3" lengthAdjust="spacingAndGlyphs">SETC</text>
<path d="M416.3,236.1 V245.7 M416.3,293.1 V301.2 M404.3,236.1 h24 M404.3,301.2 h24" stroke="#000" stroke-width="0.6" fill="none"/>
<rect x="392.8" y="245.7" width="47.10" height="47.40" fill="#e1676d" stroke="#9c4a4e" stroke-width="0.5"/>
<path d="M392.8,262.6 H439.9" stroke="#000" stroke-width="0.6"/>
<circle cx="416.3" cy="224" r="0.65" fill="#111" stroke="#111" stroke-width="0.12"/>
<circle cx="416.3" cy="225.8" r="0.65" fill="#111" stroke="#111" stroke-width="0.12"/>
<circle cx="416.3" cy="231.3" r="0.65" fill="#111" stroke="#111" stroke-width="0.12"/>
<circle cx="416.3" cy="303.2" r="0.65" fill="#111" stroke="#111" stroke-width="0.12"/>
<circle cx="416.3" cy="305" r="0.65" fill="#111" stroke="#111" stroke-width="0.12"/>
<circle cx="416.3" cy="306.8" r="0.65" fill="#111" stroke="#111" stroke-width="0.12"/>
<path d="M416.3,317.5 v1.3" stroke="#444" stroke-width="0.4"/>
<text x="416.3" y="327.0" font-size="9.3" text-anchor="middle" fill="#111" stroke="#111" stroke-width="0.12" textLength="28.3" lengthAdjust="spacingAndGlyphs">DWCC</text>
</svg>
</body></html>
